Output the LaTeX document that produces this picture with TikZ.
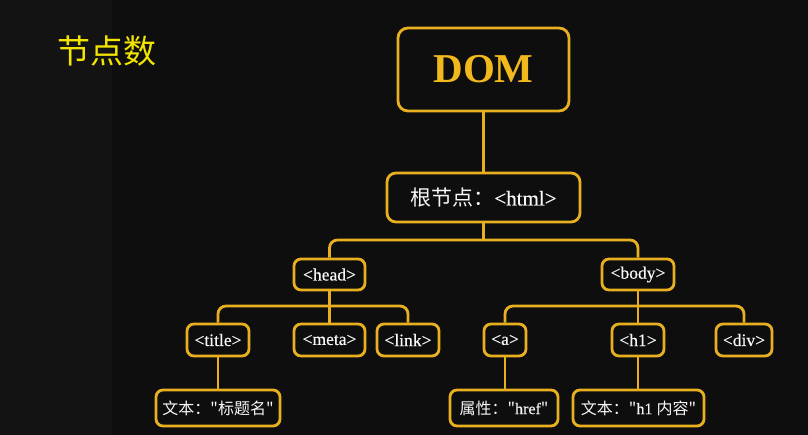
\documentclass[tikz,border=0pt]{standalone}
\usepackage{fontspec}
\setmainfont[FakeBold=0.35]{Liberation Serif}
\newfontfamily\dombf{Liberation Serif Bold}
\newfontfamily\cjk{Noto Sans CJK SC}
\definecolor{bg}{HTML}{0E0E0E}
\definecolor{bgl}{HTML}{131313}
\definecolor{gold}{HTML}{E8B021}
\definecolor{domc}{HTML}{F2B91E}
\definecolor{ttl}{HTML}{F3E500}
\definecolor{txt}{HTML}{F7F7F7}
\begin{document}
\begin{tikzpicture}[x=1pt,y=-1pt,
  box/.style={draw=gold,line width=2.8pt,rounded corners=7pt,fill=bg,text=txt,inner sep=0pt,
    font=\fontsize{17.5}{19}\selectfont},
  lbox/.style={box,font=\fontsize{16}{18}\selectfont},
  conn/.style={draw=gold,line width=2.8pt,rounded corners=8pt}]
\fill[bg] (0,0) rectangle (808,435);
\fill[bgl] (0,0) rectangle (112,435);
\useasboundingbox (0,0) rectangle (808,435);
\node[text=ttl,font=\cjk\fontsize{33}{36}\selectfont] (ttl) at (107,51) {节点数};
\node[box,rounded corners=10pt,minimum width=171pt,minimum height=83pt,text=domc,font=\dombf\fontsize{41}{44}\selectfont] (dom) at (483.5,69.5) {DOM};
\node[box,rounded corners=9pt,minimum width=193pt,minimum height=49pt,font=\fontsize{21}{24}\selectfont] (root) at (483.5,197.5) {{\cjk 根节点：}<html>};
\node[box,minimum width=71pt,minimum height=31pt] (head) at (329.5,274.5) {<head>};
\node[box,minimum width=72pt,minimum height=31pt] (body) at (638,274.5) {<body>};
\node[box,minimum width=62pt,minimum height=32pt] (title) at (218,340) {<title>};
\node[box,minimum width=71pt,minimum height=32pt] (meta) at (329.5,340) {<meta>};
\node[box,minimum width=62pt,minimum height=32pt] (link) at (408,340) {<link>};
\node[box,minimum width=42pt,minimum height=32pt] (a) at (505,340) {<a>};
\node[box,minimum width=52pt,minimum height=32pt] (h1) at (638,340) {<h1>};
\node[box,minimum width=56pt,minimum height=32pt] (div) at (744,340) {<div>};
\node[lbox,minimum width=124pt,minimum height=36pt] (t1) at (218,408) {\cjk 文本："标题名"};
\node[lbox,minimum width=108pt,minimum height=36pt] (attr) at (504,408) {{\cjk 属性："}href{\cjk "}};
\node[lbox,minimum width=131pt,minimum height=36pt] (t2) at (638.5,408) {{\cjk 文本："}h1 {\cjk 内容"}};
\coordinate (j1) at (483.5,240);
\coordinate (j2) at (329.5,306);
\coordinate (j3) at (638,306);
\draw[conn] (dom.south) -- (root.north);
\draw[conn] (root.south) -- (j1);
\draw[conn] (head.north) |- (j1) -| (body.north);
\draw[conn] (head.south) -- (meta.north);
\draw[conn] (title.north) |- (j2) -| (link.north);
\draw[conn] (body.south) -- (h1.north);
\draw[conn] (a.north) |- (j3) -| (div.north);
\draw[conn] (title.south) -- (t1.north);
\draw[conn] (a.south) -- (a.south |- attr.north);
\draw[conn] (h1.south) -- (h1.south |- t2.north);
\end{tikzpicture}
\end{document}
